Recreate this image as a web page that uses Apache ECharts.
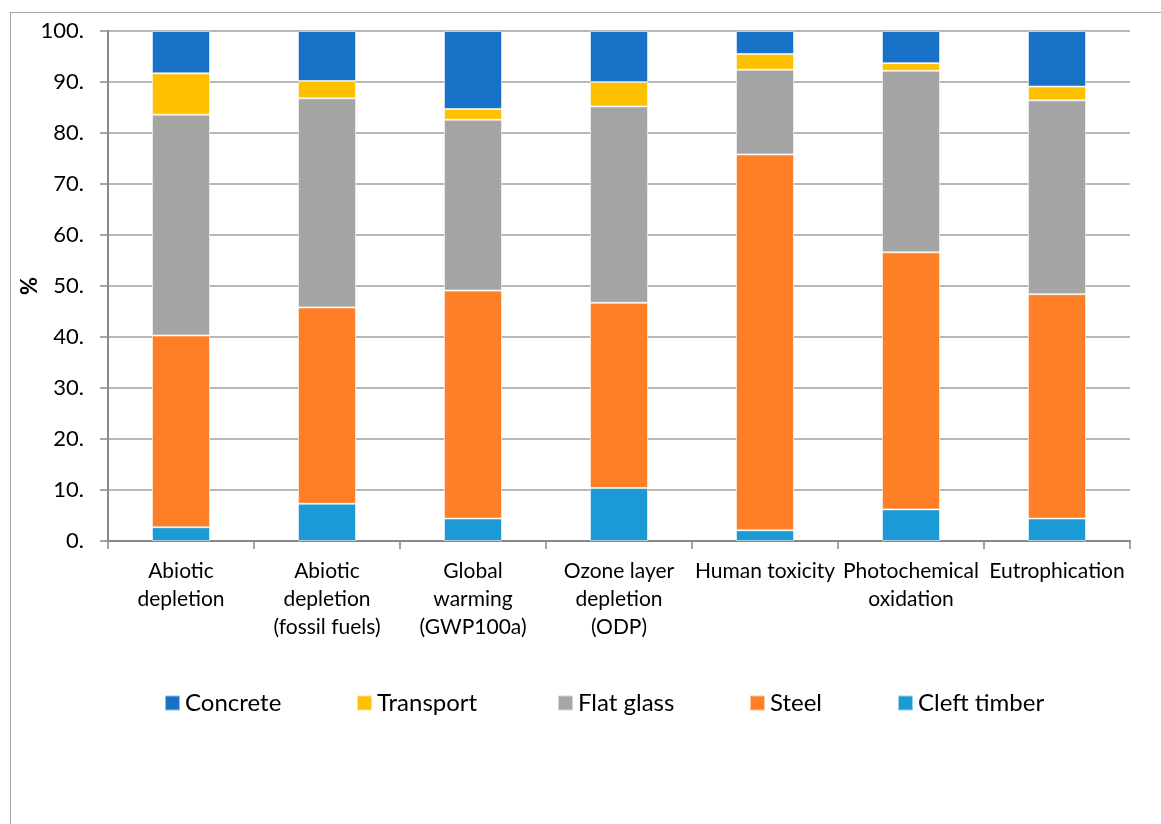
<!DOCTYPE html>
<html>
<head>
<meta charset="utf-8">
<script src="https://cdn.jsdelivr.net/npm/echarts@6/dist/echarts.min.js"></script>
<style>
  html, body { margin: 0; padding: 0; background: #fff; }
  #frame { position: absolute; left: 10px; top: 12px; width: 1200px; height: 900px; border: 1px solid #a6a6a6; box-sizing: border-box; }
  #chart { position: absolute; left: 0; top: 0; width: 1161px; height: 824px; }
</style>
</head>
<body>
<div id="frame"></div>
<div id="chart"></div>
<script>
// Impact categories (x axis)
const categories = [
  'Abiotic\ndepletion',
  'Abiotic\ndepletion\n(fossil fuels)',
  'Global\nwarming\n(GWP100a)',
  'Ozone layer\ndepletion\n(ODP)',
  'Human toxicity',
  'Photochemical\noxidation',
  'Eutrophication'
];

// Contribution of each component, % (stacked bottom to top)
const cleftTimber = [2.7, 7.3, 4.4, 10.4, 2.1, 6.2, 4.4];
const steel       = [37.6, 38.5, 44.7, 36.3, 73.7, 50.4, 44.0];
const flatGlass   = [43.3, 41.0, 33.5, 38.5, 16.6, 35.6, 38.0];
const transport   = [8.1, 3.4, 2.1, 4.8, 3.1, 1.5, 2.7];
const concrete    = [8.3, 9.8, 15.3, 10.0, 4.5, 6.3, 10.9];

const yTicks = [0, 10, 20, 30, 40, 50, 60, 70, 80, 90, 100];
const yTitle = '%';

const colors = {
  'Concrete': '#1772c7',
  'Transport': '#ffc000',
  'Flat glass': '#a5a5a5',
  'Steel': '#ff7f27',
  'Cleft timber': '#1c9ad6'
};

const font = 'Lato, "Open Sans", sans-serif';

function barSeries(name, data) {
  return {
    name: name,
    type: 'bar',
    stack: 'total',
    data: data,
    barWidth: 58,
    itemStyle: { color: colors[name], borderColor: 'rgba(255,255,255,0.55)', borderWidth: 1 },
    emphasis: { disabled: true }
  };
}

// One legend block per entry so each sits at its own spot
const legendItems = [
  { name: 'Concrete', left: 164 },
  { name: 'Transport', left: 356 },
  { name: 'Flat glass', left: 557 },
  { name: 'Steel', left: 749 },
  { name: 'Cleft timber', left: 897 }
];

const chart = echarts.init(document.getElementById('chart'), null, { renderer: 'canvas' });

chart.setOption({
  animation: false,
  backgroundColor: 'transparent',
  grid: { left: 108, right: 31, top: 31, bottom: 283, containLabel: false },
  graphic: [{
    type: 'text',
    x: 30,
    y: 286,
    rotation: Math.PI / 2,
    style: {
      text: yTitle,
      fontFamily: font,
      fontSize: 22,
      fontWeight: 'bold',
      fill: '#000',
      align: 'center',
      verticalAlign: 'middle'
    }
  }],
  legend: legendItems.map(it => ({
    data: [it.name],
    left: it.left,
    top: 691,
    padding: 0,
    itemWidth: 15,
    itemHeight: 15,
    itemGap: 0,
    icon: 'rect',
    selectedMode: false,
    textStyle: { fontFamily: font, fontSize: 24, color: '#000' }
  })),
  xAxis: {
    type: 'category',
    data: categories,
    boundaryGap: true,
    axisLine: { lineStyle: { color: '#888', width: 2 } },
    axisTick: { show: true, length: 8, alignWithLabel: false, lineStyle: { color: '#888', width: 1.5 } },
    axisLabel: {
      interval: 0,
      margin: 16,
      color: '#000',
      fontFamily: font,
      fontSize: 21,
      lineHeight: 28
    },
    splitLine: { show: false }
  },
  yAxis: {
    type: 'value',
    min: yTicks[0],
    max: yTicks[yTicks.length - 1],
    interval: 10,
    axisLine: { show: true, lineStyle: { color: '#888', width: 2 } },
    axisTick: { show: true, length: 8, lineStyle: { color: '#888', width: 1.5 } },
    axisLabel: {
      margin: 24,
      color: '#000',
      fontFamily: font,
      fontSize: 22,
      formatter: v => v + '.'
    },
    splitLine: { show: true, lineStyle: { color: '#a0a0a0', width: 1.5 } }
  },
  series: [
    barSeries('Cleft timber', cleftTimber),
    barSeries('Steel', steel),
    barSeries('Flat glass', flatGlass),
    barSeries('Transport', transport),
    barSeries('Concrete', concrete)
  ]
});
</script>
</body>
</html>
